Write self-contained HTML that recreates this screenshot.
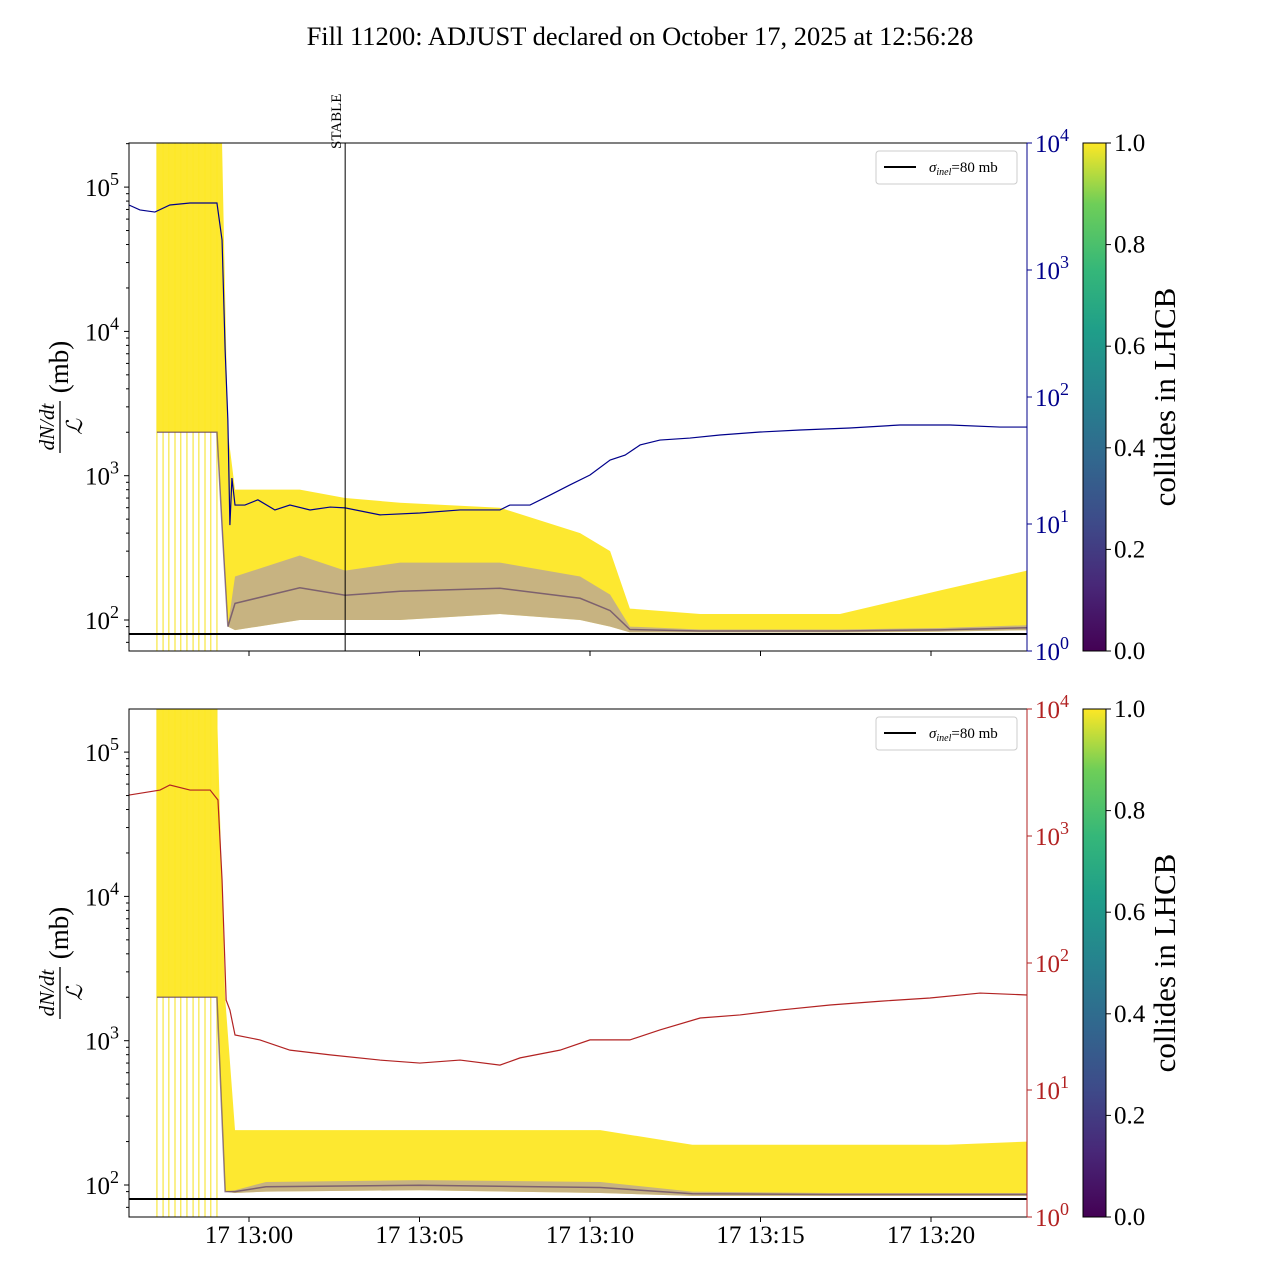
<!DOCTYPE html>
<html><head><meta charset="utf-8">
<style>
html,body{margin:0;padding:0;background:#fff;}
svg{display:block;font-family:"Liberation Serif","DejaVu Serif",serif;}
</style></head>
<body>
<svg id="chart" width="1280" height="1280" viewBox="0 0 1280 1280" xmlns="http://www.w3.org/2000/svg">
<defs>
<linearGradient id="viridis" x1="0" y1="1" x2="0" y2="0">
<stop offset="0" stop-color="#440154"/><stop offset="0.13" stop-color="#482878"/><stop offset="0.25" stop-color="#3e4a89"/><stop offset="0.38" stop-color="#31688e"/><stop offset="0.5" stop-color="#26828e"/><stop offset="0.63" stop-color="#1f9e89"/><stop offset="0.75" stop-color="#35b779"/><stop offset="0.88" stop-color="#6ece58"/><stop offset="1" stop-color="#fde725"/>
</linearGradient>
<clipPath id="clipTop"><rect x="129" y="143" width="898" height="508"/></clipPath>
<clipPath id="clipBot"><rect x="129" y="709" width="898" height="508"/></clipPath>
</defs>
<text x="640" y="45" text-anchor="middle" font-size="26.5">Fill 11200: ADJUST declared on October 17, 2025 at 12:56:28</text>
</svg>
<script>
// ---- data (time in minutes relative to 13:00) ----
const xTickLabels = ["17 13:00","17 13:05","17 13:10","17 13:15","17 13:20"];
const xTickTimes = [0,5,10,15,20];
const leftTickExps = [2,3,4,5];
const rightTickExps = [0,1,2,3,4];
const cbarTicks = [0.0,0.2,0.4,0.6,0.8,1.0];
const stableTime = 2.82;
const vLineTimes = [-2.7,-2.52,-2.35,-2.17,-2.0,-1.82,-1.64,-1.47,-1.29,-1.12,-0.94];

const blueT = [-3.52,-3.2,-2.76,-2.32,-1.73,-0.94,-0.79,-0.7,-0.62,-0.56,-0.5,-0.41,-0.12,0.26,0.76,1.2,1.79,2.38,2.82,3.84,5.01,6.19,7.36,7.65,8.24,8.83,9.41,10.0,10.59,11.03,11.47,12.05,12.93,13.81,14.99,16.16,17.62,19.09,20.56,22.02,22.82];
const blueV = [3250,2970,2860,3250,3370,3370,1720,235,66,9.8,23,14.1,14.1,15.5,12.9,14.1,12.9,13.6,13.4,11.8,12.2,12.9,12.9,14.1,14.1,16.9,20.3,24.3,31.9,34.9,41.9,45.8,47.5,50.2,53,55,57,60.2,60.2,58,58];

const redT = [-3.52,-2.61,-2.32,-1.73,-1.14,-0.91,-0.79,-0.67,-0.56,-0.41,0.32,1.2,2.38,3.84,5.01,6.19,7.36,7.95,9.12,10.0,11.17,12.05,13.23,14.4,15.57,17.04,18.5,19.97,21.44,22.82];
const redV = [2100,2300,2520,2300,2300,1920,450,51,42.6,27.1,24.8,20.6,18.9,17.2,16.3,17.2,15.7,17.9,20.6,24.8,24.8,29.7,36.9,39,42.6,46.7,50,53,58,56];

const topBandT = [-2.7,-0.94,-0.79,-0.62,-0.41,1.49,2.82,4.43,7.36,9.71,10.59,11.17,13.23,17.33,20.26,22.82];
const topBandHi = [2e5,2e5,2e5,2000,800,800,700,650,600,400,300,120,110,110,160,220];
const topBandLo = [2000,2000,500,90,85,100,100,100,110,100,90,82,82,82,83,85];
const topPurpleHi = [2000,2000,400,90,200,280,220,250,250,200,150,90,86,86,88,92];

const botBandT = [-2.7,-0.94,-0.7,-0.41,0.5,5,10.3,13.0,17.0,20.5,22.82];
const botBandHi = [2e5,2e5,2000,240,240,240,240,190,190,190,200];
const botBandLo = [2000,2000,90,88,90,92,88,84,84,84,84];
const botPurpleHi = [2000,2000,90,92,105,108,105,90,88,88,88];

// ---- geometry ----
const svg = document.getElementById('chart');
const NS = 'http://www.w3.org/2000/svg';
const X0 = 129, X1 = 1027;
const panels = [
  {top:143, bot:651, y100:620, clip:'clipTop', lineColor:'#00008b', lineT:blueT, lineV:blueV, bandT:topBandT, hi:topBandHi, lo:topBandLo, ph:topPurpleHi, name:'top'},
  {top:709, bot:1217, y100:1185, clip:'clipBot', lineColor:'#b22222', lineT:redT, lineV:redV, bandT:botBandT, hi:botBandHi, lo:botBandLo, ph:botPurpleHi, name:'bottom'}
];
function xs(t){ return 249 + t*34.1; }
function yl(v,p){ return p.y100 - (Math.log10(v)-2)*144.3; }
function yr(v,p){ return p.bot - Math.log10(v)*127; }
function mk(tag, attrs, parent){
  const e = document.createElementNS(NS, tag);
  for (const k in attrs) e.setAttribute(k, attrs[k]);
  (parent||svg).appendChild(e);
  return e;
}

panels.forEach((p, pi) => {
  const g = mk('g', {'clip-path':'url(#'+p.clip+')'});
  
  
  vLineTimes.forEach(t => {
    const l = mk('line', {x1:xs(t), x2:xs(t), y1:p.top, y2:p.bot, stroke:'#f5e01a', 'stroke-width':1}, g);
    
    
  });
  let d = '';
  p.bandT.forEach((t,i)=>{ d += (i?'L':'M') + xs(t) + ',' + yl(p.hi[i],p); });
  for (let i=p.bandT.length-1;i>=0;i--) d += 'L' + xs(p.bandT[i]) + ',' + yl(p.lo[i],p);
  const band = mk('path', {d:d+'Z', fill:'#fde725', opacity:0.95}, g);
  
  
  let d2 = '';
  p.bandT.forEach((t,i)=>{ d2 += (i?'L':'M') + xs(t) + ',' + yl(p.ph[i],p); });
  for (let i=p.bandT.length-1;i>=0;i--) d2 += 'L' + xs(p.bandT[i]) + ',' + yl(p.lo[i],p);
  const pb = mk('path', {d:d2+'Z', fill:'#a48fb8', opacity:0.6}, g);
  
  
  let d2b = '';
  p.bandT.forEach((t,i)=>{ d2b += (i?'L':'M') + xs(t) + ',' + yl(Math.sqrt(p.ph[i]*p.lo[i]),p); });
  const pl = mk('path', {d:d2b, fill:'none', stroke:'#4b2a63', 'stroke-width':1.5, opacity:0.6}, g);
  
  
  const sl = mk('line', {x1:X0, x2:X1, y1:yl(80,p), y2:yl(80,p), stroke:'#000', 'stroke-width':2}, g);
  
  
  let d3 = '';
  p.lineT.forEach((t,i)=>{ d3 += (i?'L':'M') + xs(t) + ',' + yr(p.lineV[i],p); });
  const ll = mk('path', {d:d3, fill:'none', stroke:p.lineColor, 'stroke-width':1.2}, g);
  
  
  if (pi===0) {
    const st = mk('line', {x1:xs(stableTime), x2:xs(stableTime), y1:p.top, y2:p.bot, stroke:'#000', 'stroke-width':1}, g);
    
    
    const stt = mk('text', {x:0, y:0, 'font-size':15, transform:'translate('+(xs(stableTime)-4)+',149) rotate(-90)'});
    stt.textContent = 'STABLE';
    
    
  }
  const fr = mk('rect', {x:X0, y:p.top, width:X1-X0, height:p.bot-p.top, fill:'none', stroke:'#000', 'stroke-width':1});
  
  
  mk('line', {x1:X1, x2:X1, y1:p.top, y2:p.bot, stroke:p.lineColor, 'stroke-width':1});
  leftTickExps.forEach(e => {
    const y = yl(Math.pow(10,e), p);
    mk('line', {x1:X0-5, x2:X0, y1:y, y2:y, stroke:'#000'});
    for (let m=2;m<10;m++){ const ym = yl(m*Math.pow(10,e),p); if (ym>=p.top && ym<=p.bot) mk('line',{x1:X0-3,x2:X0,y1:ym,y2:ym,stroke:'#000'}); }
    const t = mk('text', {x:X0-10, y:y+9, 'text-anchor':'end', 'font-size':25});
    t.innerHTML = '10<tspan dy="-11" font-size="18">'+e+'</tspan>';
    
    
  });
  { const ym = yl(90,p); mk('line',{x1:X0-3,x2:X0,y1:ym,y2:ym,stroke:'#000'}); const ym2=yl(70,p); mk('line',{x1:X0-3,x2:X0,y1:ym2,y2:ym2,stroke:'#000'}); }
  rightTickExps.forEach(e => {
    const y = yr(Math.pow(10,e), p);
    mk('line', {x1:X1, x2:X1+5, y1:y, y2:y, stroke:p.lineColor});
    const t = mk('text', {x:X1+8, y:y+9, 'font-size':25, fill:p.lineColor});
    t.innerHTML = '10<tspan dy="-11" font-size="18">'+e+'</tspan>';
    
    
  });
  xTickTimes.forEach((tm,i) => {
    const x = xs(tm);
    mk('line', {x1:x, x2:x, y1:p.bot, y2:p.bot+5, stroke:'#000'});
    if (pi===1) {
      const t = mk('text', {x:x, y:p.bot+26, 'text-anchor':'middle', 'font-size':25});
      t.textContent = xTickLabels[i];
      
      
    }
  });
  const yg = mk('g', {transform:'translate(58,'+((p.top+p.bot)/2)+') rotate(-90)'});
  
  
  const n = mk('text', {x:-30, y:-4, 'text-anchor':'middle', 'font-size':21, 'font-style':'italic'}, yg);
  n.textContent = 'dN/dt';
  mk('line', {x1:-56, x2:-4, y1:2, y2:2, stroke:'#000', 'stroke-width':1.3}, yg);
  const dn = mk('text', {x:-30, y:24, 'text-anchor':'middle', 'font-size':22, 'font-style':'italic'}, yg);
  dn.textContent = 'ℒ';
  const mb = mk('text', {x:30, y:10, 'text-anchor':'middle', 'font-size':27}, yg);
  mb.textContent = '(mb)';
  const lg = mk('g', {});
  
  
  mk('rect', {x:876, y:p.top+8, width:141, height:33, rx:3, fill:'#fff', stroke:'#ccc'}, lg);
  mk('line', {x1:884, x2:916, y1:p.top+24, y2:p.top+24, stroke:'#000', 'stroke-width':2}, lg);
  const lt = mk('text', {x:929, y:p.top+29, 'font-size':15}, lg);
  lt.innerHTML = '<tspan font-style="italic">σ</tspan><tspan font-size="10" dy="3" font-style="italic">inel</tspan><tspan dy="-3">=80 mb</tspan>';
  const cb = mk('rect', {x:1083, y:p.top, width:23, height:p.bot-p.top, fill:'url(#viridis)', stroke:'#000'});
  
  
  cbarTicks.forEach(v => {
    const y = p.bot - v*(p.bot-p.top);
    mk('line', {x1:1106, x2:1111, y1:y, y2:y, stroke:'#000'});
    const t = mk('text', {x:1114, y:y+8, 'font-size':25});
    t.textContent = v.toFixed(1);
    
    
  });
  const cl = mk('text', {x:0, y:0, 'text-anchor':'middle', 'font-size':31, transform:'translate(1175,'+((p.top+p.bot)/2)+') rotate(-90)'});
  cl.textContent = 'collides in LHCB';
  
  
});
</script>
</body></html>
